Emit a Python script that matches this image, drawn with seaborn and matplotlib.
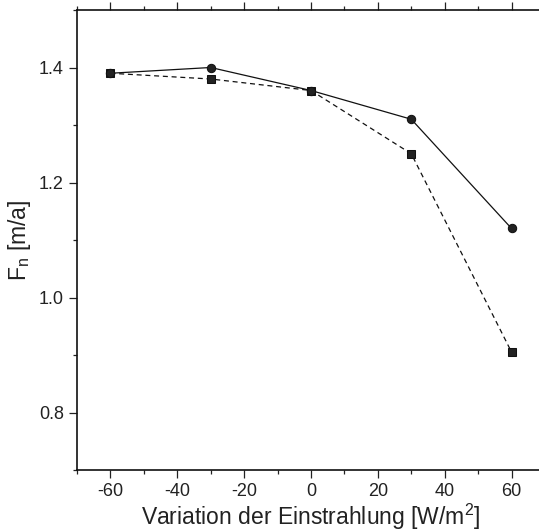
import matplotlib
matplotlib.use("Agg")
import matplotlib.pyplot as plt
import seaborn as sns
import pandas as pd
from matplotlib.ticker import MultipleLocator

sns.set_theme(style="ticks")
plt.rcParams['font.family'] = ['Liberation Sans', 'DejaVu Sans']
plt.rcParams['mathtext.fontset'] = 'custom'
plt.rcParams['mathtext.rm'] = 'Liberation Sans'

variation = [-60, -30, 0, 30, 60]
fn_circle = [1.39, 1.40, 1.36, 1.31, 1.12]
fn_square = [1.39, 1.38, 1.36, 1.25, 0.905]

df_c = pd.DataFrame({"x": variation, "y": fn_circle})
df_s = pd.DataFrame({"x": variation, "y": fn_square})

fig = plt.figure(figsize=(5.39, 5.32), dpi=100)
ax = fig.add_axes([77/539, 62/532, 468/539, 460/532])

sns.lineplot(data=df_s, x="x", y="y", ax=ax, color="#111111", lw=0.9,
             linestyle=(0, (4, 3)), marker="s", markersize=5.5,
             markerfacecolor="#222222", markeredgecolor="#111111")
sns.lineplot(data=df_c, x="x", y="y", ax=ax, color="#111111", lw=0.9,
             marker="o", markersize=6,
             markerfacecolor="#222222", markeredgecolor="#111111")

ax.set_xlim(-70, 70)
ax.set_ylim(0.7, 1.5)
ax.xaxis.set_minor_locator(MultipleLocator(10))
ax.yaxis.set_minor_locator(MultipleLocator(0.1))
ax.set_xticks([-60, -40, -20, 0, 20, 40, 60])
ax.set_yticks([0.8, 1.0, 1.2, 1.4])
ax.set_xticklabels(["-60", "-40", "-20", "0", "20", "40", "60"])
ax.set_yticklabels(["0.8", "1.0", "1.2", "1.4"])

ax.tick_params(which='both', direction='out', top=True, right=False,
               labelsize=13, colors='#222222', width=0.9)
ax.tick_params(which='major', length=6)
ax.tick_params(which='minor', length=3)
for s in ['left', 'bottom', 'top']:
    ax.spines[s].set_linewidth(1.2)
    ax.spines[s].set_color('#111111')
ax.spines['right'].set_visible(False)

ax.set_xlabel(r'Variation der Einstrahlung [W/m$^\mathregular{2}$]', fontsize=16.5, color='#222222', labelpad=1)
ax.set_ylabel(r'F$_\mathregular{n}$ [m/a]', fontsize=16.5, color='#222222', labelpad=4)

fig.savefig("out.png", dpi=100)
